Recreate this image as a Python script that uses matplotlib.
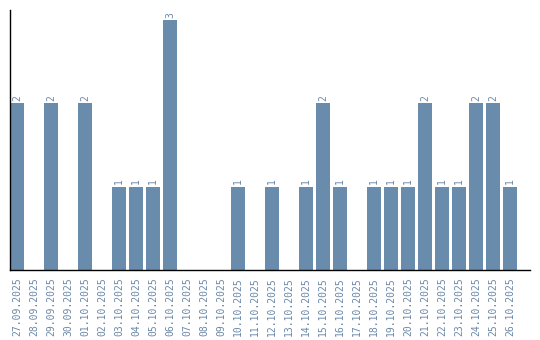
import matplotlib
matplotlib.use("Agg")
import matplotlib.pyplot as plt

# -----------------------------
# Data
# -----------------------------
dates = [
    "27.09.2025", "28.09.2025", "29.09.2025", "30.09.2025", "01.10.2025",
    "02.10.2025", "03.10.2025", "04.10.2025", "05.10.2025", "06.10.2025",
    "07.10.2025", "08.10.2025", "09.10.2025", "10.10.2025", "11.10.2025",
    "12.10.2025", "13.10.2025", "14.10.2025", "15.10.2025", "16.10.2025",
    "17.10.2025", "18.10.2025", "19.10.2025", "20.10.2025", "21.10.2025",
    "22.10.2025", "23.10.2025", "24.10.2025", "25.10.2025", "26.10.2025",
]
counts = [2, 0, 2, 0, 2, 0, 1, 1, 1, 3,
          0, 0, 0, 1, 0, 1, 0, 1, 2, 1,
          0, 1, 1, 1, 2, 1, 1, 2, 2, 1]

# -----------------------------
# Plot
# -----------------------------
bar_color = "#6a8cac"
label_color = "#6a88a8"

fig = plt.figure(figsize=(5.4, 3.4), dpi=100)
ax = fig.add_axes([10 / 540, 70 / 340, 520 / 540, 260 / 340])

x = list(range(len(dates)))
ax.bar(x, counts, width=0.82, color=bar_color)

for xi, c in zip(x, counts):
    if c > 0:
        ax.text(xi, c + 0.03, str(c), rotation=90, ha="center", va="bottom",
                fontsize=7, family="DejaVu Sans Mono", color=label_color)

ax.set_xlim(-0.41, 30.18)
ax.set_ylim(0, 3.12)

ax.set_xticks(x)
ax.set_xticklabels(dates, rotation=90, fontsize=7, family="DejaVu Sans Mono",
                   color=label_color)
ax.tick_params(axis="x", length=0, pad=5)
ax.tick_params(axis="y", left=False, labelleft=False)

ax.spines["top"].set_visible(False)
ax.spines["right"].set_visible(False)
ax.spines["left"].set_color("black")
ax.spines["bottom"].set_color("black")
ax.spines["left"].set_linewidth(1)
ax.spines["bottom"].set_linewidth(1)

fig.savefig("out.png", dpi=100, facecolor="white")
